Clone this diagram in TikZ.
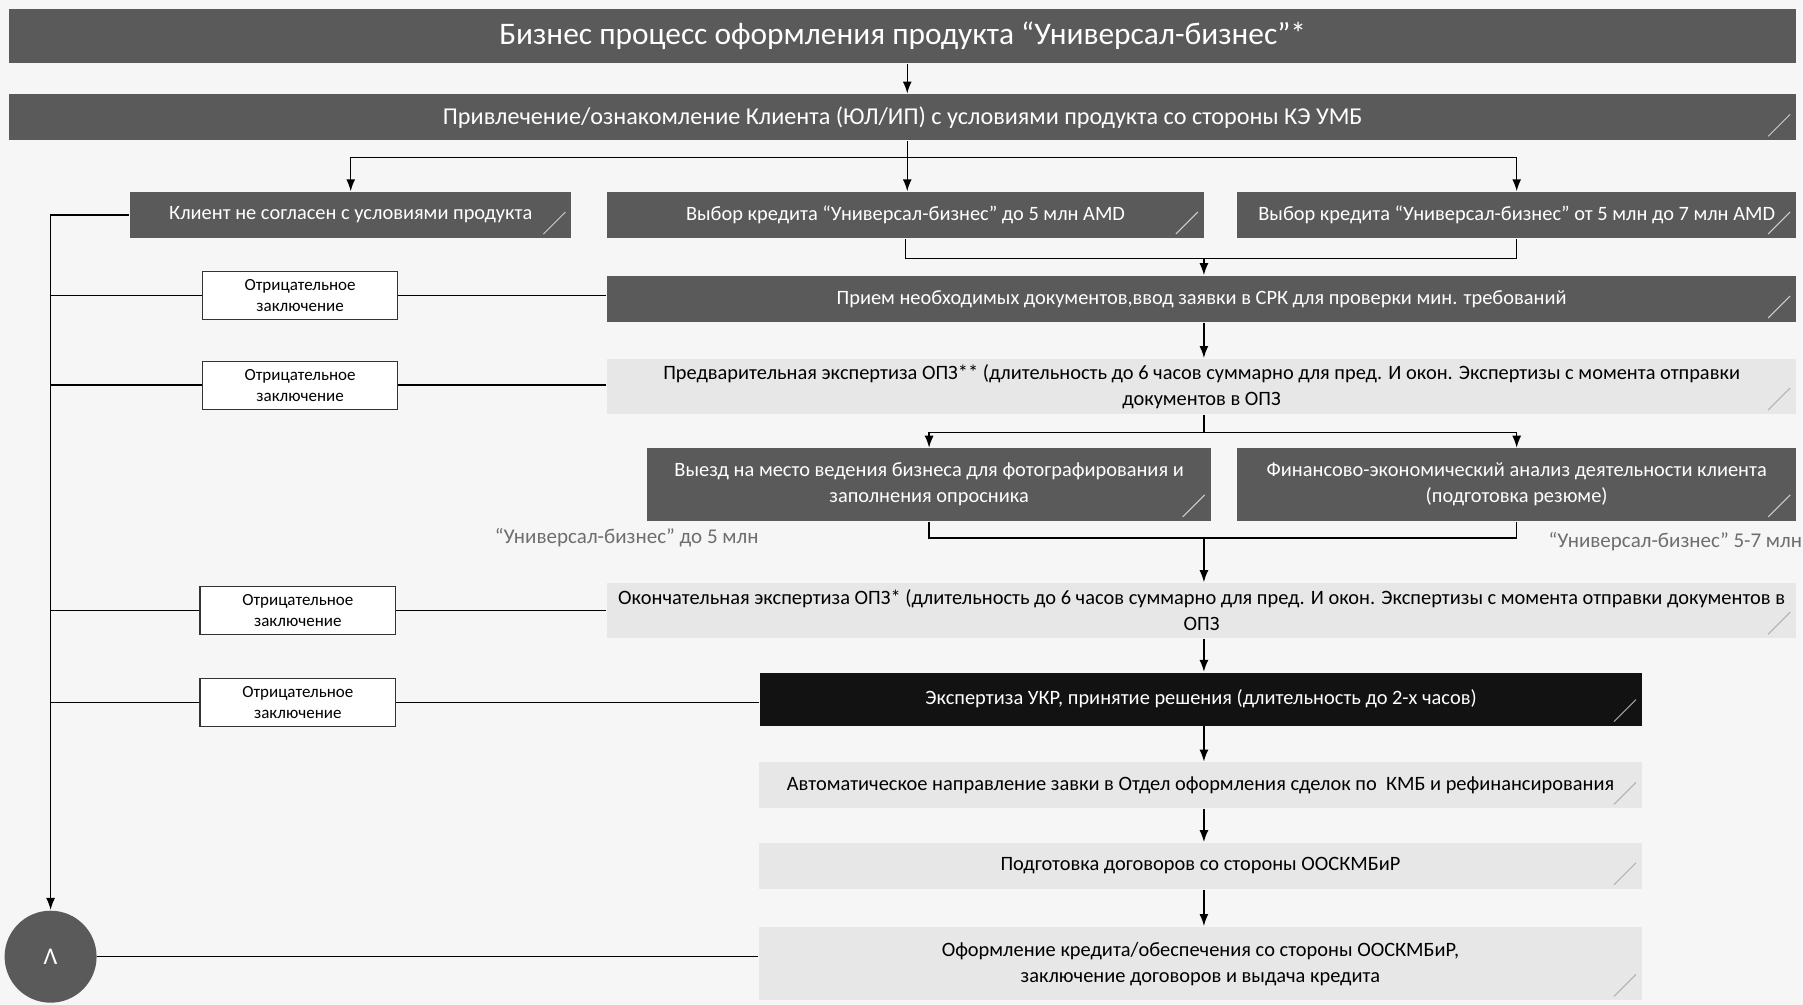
\documentclass[tikz,border=0pt]{standalone}
\usepackage{fontspec}
\setmainfont{Carlito}
\usetikzlibrary{arrows.meta,calc}

\definecolor{boxdark}{RGB}{90,90,90}
\definecolor{boxlight}{RGB}{231,231,231}
\definecolor{boxblack}{RGB}{18,18,18}
\definecolor{pagebg}{RGB}{246,246,246}
\definecolor{notegray}{RGB}{110,110,110}

\tikzset{every picture/.style={line width=0.75pt}}
\tikzset{
  cornermark/.style={path picture={\draw[#1,line width=0.5pt] ([xshift=-14pt,yshift=2pt]path picture bounding box.south east) -- ([xshift=-3pt,yshift=13pt]path picture bounding box.south east);}},
  headbar/.style={fill=boxdark, text=white, inner sep=2pt, align=center},
  darkbox/.style={fill=boxdark, text=white, inner sep=2pt, align=center, font=\fontsize{10.2}{13}\selectfont, cornermark=white!70!boxdark},
  lightbox/.style={fill=boxlight, text=black, inner sep=2pt, align=center, font=\fontsize{10.2}{13}\selectfont, cornermark=black!30},
  blackbox/.style={fill=boxblack, text=white, inner sep=2pt, align=center, font=\fontsize{10.2}{13}\selectfont, cornermark=white!60!boxblack},
  negbox/.style={draw=black!80, line width=0.6pt, fill=white, align=center, font=\fontsize{8.5}{10.5}\selectfont, minimum width=97.75pt, minimum height=24pt},
  sidenote/.style={text=notegray, font=\fontsize{10.5}{12}\selectfont},
  arr/.style={-{Latex[length=6pt,width=4.5pt]}},
}

\begin{document}
\begin{tikzpicture}[x=0.575pt,y=0.575pt,yscale=-1,xscale=1]
\useasboundingbox (0,0) rectangle (1568,874);
\fill[pagebg] (0,0) rectangle (1568,874);

% Top bars
\node (title) [headbar, font=\fontsize{15.7}{18}\selectfont, minimum width=893.6pt, minimum height=27pt] at (785,31.5) {Бизнес процесс оформления продукта “Универсал-бизнес”*};
\node (attract) [darkbox, font=\fontsize{12.1}{15}\selectfont, minimum width=893.6pt, minimum height=23pt] at (785,102) {Привлечение/ознакомление Клиента (ЮЛ/ИП) с условиями продукта со стороны КЭ УМБ};

% Choice boxes
\node (refuse) [darkbox, minimum width=220.8pt, minimum height=23pt] at (305,187) {Клиент не согласен с условиями продукта};
\node (upto5) [darkbox, minimum width=298.4pt, minimum height=23pt] at (787.5,187) {Выбор кредита “Универсал-бизнес” до 5 млн AMD};
\node (from5to7) [darkbox, minimum width=279.5pt, minimum height=23pt] at (1319,187) {Выбор кредита “Универсал-бизнес” от 5 млн до 7 млн AMD};

% Main column
\node (docs) [darkbox, minimum width=594.6pt, minimum height=23pt] at (1045,260) {Прием необходимых документов,ввод заявки в СРК для проверки мин. требований};
\node (prelim) [lightbox, minimum width=594.6pt, minimum height=27.6pt] at (1045,336) {Предварительная экспертиза ОПЗ** (длительность до 6 часов суммарно для пред. И окон. Экспертизы с момента отправки\\документов в ОПЗ};
\node (visit) [darkbox, minimum width=281.75pt, minimum height=36.2pt] at (808,421.5) {Выезд на место ведения бизнеса для фотографирования и\\заполнения опросника};
\node (analysis) [darkbox, minimum width=279.5pt, minimum height=36.2pt] at (1319,421.5) {Финансово-экономический анализ деятельности клиента\\(подготовка резюме)};
\node (final) [lightbox, minimum width=594.6pt, minimum height=27.6pt] at (1045,531) {Окончательная экспертиза ОПЗ* (длительность до 6 часов суммарно для пред. И окон. Экспертизы с момента отправки документов в\\ОПЗ};
\node (ukr) [blackbox, minimum width=441pt, minimum height=26.5pt] at (1044.5,608) {Экспертиза УКР, принятие решения (длительность до 2-х часов)};
\node (auto) [lightbox, minimum width=441.6pt, minimum height=23pt] at (1044,683) {Автоматическое направление завки в Отдел оформления сделок по~~КМБ и рефинансирования};
\node (contracts) [lightbox, minimum width=441.6pt, minimum height=23pt] at (1044,753) {Подготовка договоров со стороны ООСКМБиР};
\node (issue) [lightbox, minimum width=441.6pt, minimum height=36.8pt] at (1044,838) {Оформление кредита/обеспечения со стороны ООСКМБиР,\\заключение договоров и выдача кредита};

% Side notes
\node (note5) [sidenote] at (545,468) {“Универсал-бизнес” до 5 млн};
\node (note57) [sidenote] at (1457,471) {“Универсал-бизнес” 5-7 млн};

% Negative conclusions
\node (neg1) [negbox] at (261,257) {Отрицательное\\заключение};
\node (neg2) [negbox] at (261,335) {Отрицательное\\заключение};
\node (neg3) [negbox] at (259,531) {Отрицательное\\заключение};
\node (neg4) [negbox] at (259,611) {Отрицательное\\заключение};

% End circle
\node (circ) [circle, fill=boxdark, text=white, minimum size=46pt, font=\fontsize{12}{14}\selectfont] at (44,832) {Λ};

% Junctions
\coordinate (j1) at (789,137);
\coordinate (j2) at (1047,225);
\coordinate (j3) at (1047,376);
\coordinate (j4) at (1047,468);

% Connectors
\draw[arr] (title.south -| j1) -- (attract.north -| j1);
\draw (attract.south -| j1) -- (j1);
\draw[arr] (j1) -| (refuse.north);
\draw[arr] (j1) -| (from5to7.north);
\draw[arr] (j1) -- (upto5.north -| j1);
\draw (upto5.south) |- (j2) -| (from5to7.south);
\draw[arr] (j2) -- (docs.north -| j2);
\draw[arr] (docs.south -| j2) -- (prelim.north -| j2);
\draw (prelim.south -| j3) -- (j3);
\draw[arr] (j3) -| (visit.north);
\draw[arr] (j3) -| (analysis.north);
\draw (visit.south) |- (j4) -| (analysis.south);
\draw[arr] (j4) -- (final.north -| j4);
\draw[arr] (final.south -| j4) -- (ukr.north -| j4);
\draw[arr] (ukr.south -| j4) -- (auto.north -| j4);
\draw[arr] (auto.south -| j4) -- (contracts.north -| j4);
\draw[arr] (contracts.south -| j4) -- (issue.north -| j4);

% Return line on the left
\draw[arr] (refuse.west) -- (refuse.west -| circ.north) -- (circ.north);
\draw (neg1.west) -- (neg1.west -| circ.north);
\draw (neg1.east) -- (neg1.east -| docs.west);
\draw (neg2.west) -- (neg2.west -| circ.north);
\draw (neg2.east) -- (neg2.east -| prelim.west);
\draw (neg3.west) -- (neg3.west -| circ.north);
\draw (neg3.east) -- (neg3.east -| final.west);
\draw (neg4.west) -- (neg4.west -| circ.north);
\draw (neg4.east) -- (neg4.east -| ukr.west);
\draw (circ.east) -- (circ.east -| issue.west);

\end{tikzpicture}
\end{document}
